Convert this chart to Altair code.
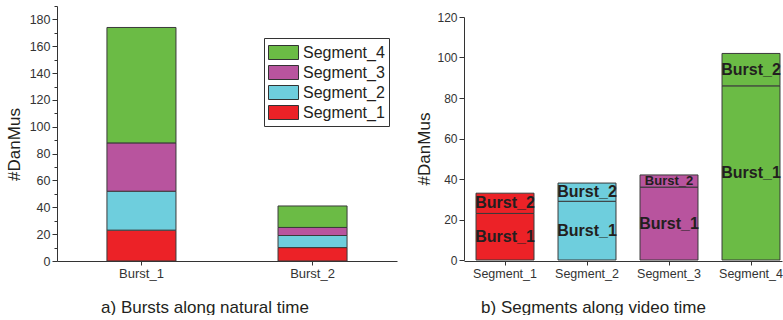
import altair as alt
import pandas as pd

bursts = ["Burst_1", "Burst_2"]
segments = ["Segment_1", "Segment_2", "Segment_3", "Segment_4"]
burst1_vals = [23, 29, 36, 86]
burst2_vals = [10, 9, 6, 16]
seg_colors = ["#EC2227", "#6ECEDD", "#B8549E", "#6BBB45"]
label_sizes_b1 = [16, 16, 16, 16]
label_sizes_b2 = [16, 16, 13, 16]

rows = []
for bi, (b, vals, fss) in enumerate(zip(bursts, [burst1_vals, burst2_vals], [label_sizes_b1, label_sizes_b2])):
    for si, (s, v, f) in enumerate(zip(segments, vals, fss)):
        rows.append({"burst": b, "bi": bi, "segment": s, "si": si, "value": v, "fs": f})
df = pd.DataFrame(rows)

FONT = "Liberation Sans"
INK = "#231F20"
AX = "#333333"

is_major = "datum.value % 20 === 0"
minor_tick = {"condition": {"test": is_major, "value": 5}, "value": 3}
major_label = "datum.value % 20 === 0 ? datum.label : ''"


def label_size(v):
    return {"condition": {"test": is_major, "value": v}, "value": 0}


color_scale = alt.Scale(domain=segments[::-1], range=seg_colors[::-1])

left = alt.Chart(df).mark_bar(stroke="#3a3a3a", strokeWidth=1).encode(
    x=alt.X("burst:N", sort=bursts,
            scale=alt.Scale(paddingInner=0.5965, paddingOuter=0.292),
            axis=alt.Axis(title="a) Bursts along natural time", labelAngle=0, labelFontSize=13,
                          tickSize=4, labelPadding=2, titleFontSize=17, titleFontWeight="normal",
                          titleX=147.5, titleY=51, titleBaseline="alphabetic", titleAlign="center")),
    y=alt.Y("value:Q", stack="zero",
            scale=alt.Scale(domain=[0, 190], nice=False, zero=True),
            axis=alt.Axis(title="#DanMus", values=list(range(0, 191, 10)), labelExpr=major_label,
                          tickSize=minor_tick, labelOverlap=False, labelFontSize=label_size(12.5),
                          labelPadding=2, grid=False, titleFontSize=17, titleFontWeight="normal",
                          titleX=-38, titleY=138, titleBaseline="alphabetic", titleAlign="center")),
    color=alt.Color("segment:N", scale=color_scale,
                    legend=alt.Legend(title=None, orient="none", legendX=207, legendY=32,
                                      strokeColor=AX, fillColor="white", padding=4,
                                      symbolType="M-1.5,-0.7H1.5V0.7H-1.5Z", symbolSize=400,
                                      symbolOffset=5, symbolStrokeColor=AX, symbolStrokeWidth=1,
                                      symbolOpacity=1,
                                      labelFont=FONT, labelFontSize=16, labelColor=INK, labelOffset=9,
                                      rowPadding=0)),
    order=alt.Order("si:Q", sort="ascending"),
).properties(width=340, height=255)

right_bars = alt.Chart(df).mark_bar(stroke="#3a3a3a", strokeWidth=1).encode(
    x=alt.X("segment:N", sort=segments,
            scale=alt.Scale(paddingInner=0.293, paddingOuter=0.0856, align=0.857),
            axis=alt.Axis(title="b) Segments along video time", labelAngle=0, labelFontSize=12.5,
                          tickSize=4, labelPadding=2, titleFontSize=17, titleFontWeight="normal",
                          titleX=129, titleY=51, titleBaseline="alphabetic", titleAlign="center")),
    y=alt.Y("value:Q", stack="zero",
            scale=alt.Scale(domain=[0, 120], nice=False, zero=True, range=[254, 11]),
            axis=alt.Axis(title="#DanMus", values=list(range(0, 121, 10)), labelExpr=major_label,
                          tickSize=minor_tick, labelOverlap=False, labelFontSize=label_size(12),
                          labelPadding=2, grid=False, titleFontSize=17, titleFontWeight="normal",
                          titleX=-35, titleY=142.5, titleBaseline="alphabetic", titleAlign="center")),
    color=alt.Color("segment:N", scale=color_scale, legend=None),
    order=alt.Order("bi:Q", sort="ascending"),
)

right_text = alt.Chart(df).transform_stack(
    stack="value", as_=["v0", "v1"], groupby=["segment"], sort=[alt.SortField("bi", order="ascending")]
).transform_calculate(
    mid="(datum.v0 + datum.v1) / 2"
).mark_text(font=FONT, fontWeight="bold", color=INK, baseline="middle", align="center").encode(
    x=alt.X("segment:N", sort=segments),
    y=alt.Y("mid:Q", title="#DanMus"),
    text="burst:N",
    size=alt.Size("fs:Q", scale=None),
)

right = alt.layer(right_bars, right_text).properties(width=318, height=255)

chart = alt.hconcat(left, right, spacing=18).resolve_scale(color="independent").properties(
    padding={"left": 5, "top": 5, "right": 0, "bottom": 0}
).configure_view(stroke=None).configure_axis(
    labelFont=FONT, titleFont=FONT, labelColor=AX, titleColor=INK,
    domainColor=AX, tickColor=AX, domainWidth=1, tickWidth=1
)

chart.save("out.html", embed_options={"renderer": "svg", "actions": False})
